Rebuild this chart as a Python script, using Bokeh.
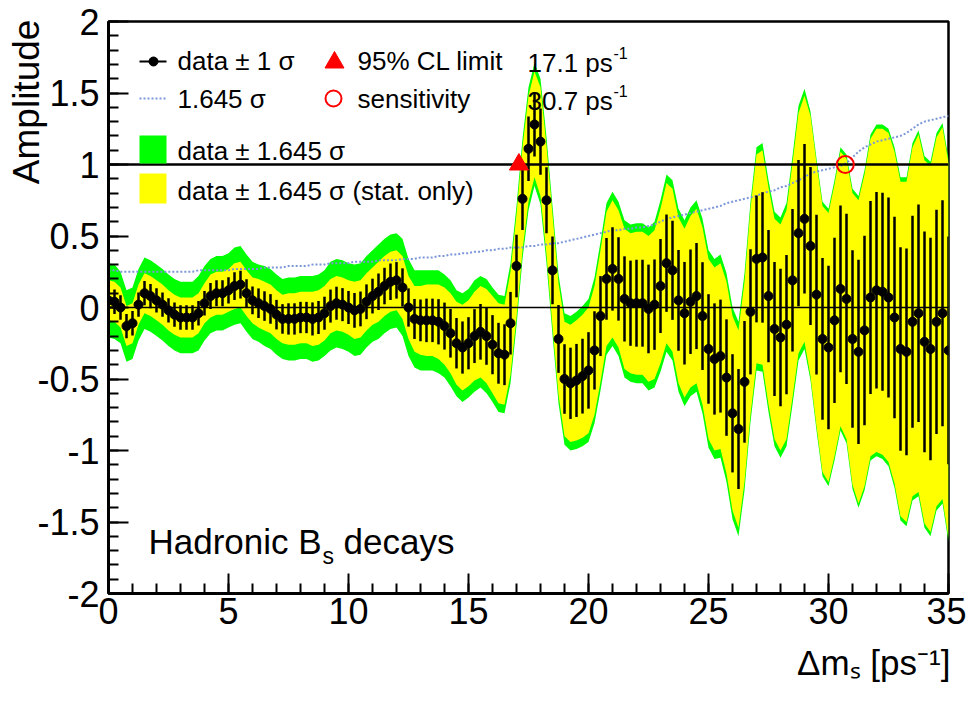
import numpy as np
from bokeh.plotting import figure
from bokeh.models import Label, FixedTicker, NumeralTickFormatter
from bokeh.embed import file_html
from bokeh.resources import INLINE

# ---------------- data ----------------
scan_start, scan_stop, scan_step = 0.0, 35.0, 0.25
dms = np.arange(scan_start, scan_stop + scan_step / 2, scan_step)

amplitude = [
    0.05, 0.04, 0.00, -0.13, -0.11, 0.02, 0.10, 0.08, 0.05, 0.02, -0.02, -0.05, -0.07, -0.07, -0.07, -0.04, 0.03,
    0.08, 0.10, 0.10, 0.12, 0.15, 0.16, 0.10, 0.05, 0.03, 0.01, -0.01, -0.05, -0.08, -0.08, -0.08, -0.07,
    -0.07, -0.08, -0.07, -0.04, 0.01, 0.03, 0.02, 0.00, -0.02, -0.01, 0.04, 0.08, 0.11, 0.15, 0.18, 0.19,
    0.14, 0.00, -0.08, -0.09, -0.09, -0.09, -0.10, -0.13, -0.18, -0.25, -0.28, -0.25, -0.20, -0.17, -0.20, -0.26, -0.32, -0.33, -0.11, 0.29,
    0.76, 1.11, 1.28, 1.16, 0.75, 0.26, -0.22, -0.50, -0.53, -0.51, -0.48, -0.44, -0.30, -0.06, 0.20, 0.27, 0.20, 0.06, 0.03, 0.03, 0.03, -0.01, 0.02, 0.15,
    0.31, 0.26, 0.05, -0.04, 0.04, 0.08, -0.06, -0.29, -0.36, -0.34, -0.49, -0.74, -0.85, -0.52, -0.03, 0.34, 0.35, 0.08, -0.15, -0.21, -0.12, 0.19, 0.52, 0.62,
    0.43, 0.09, -0.22, -0.28, -0.09, 0.13, 0.06, -0.22, -0.31, -0.16, 0.07, 0.12, 0.11, 0.07, -0.07, -0.29, -0.31, -0.10, -0.04, -0.24, -0.29, -0.10, -0.04, -0.30,
]

# 1.645 sigma (total) -- the dotted curve and the green half-width
sig1645_total = [
    0.26, 0.26, 0.25, 0.25, 0.25, 0.25, 0.25, 0.25, 0.25, 0.25, 0.25, 0.25, 0.25, 0.25, 0.25, 0.26, 0.26,
    0.26, 0.26, 0.26, 0.26, 0.27, 0.27, 0.27, 0.27, 0.27, 0.28, 0.28, 0.28, 0.28, 0.29, 0.29, 0.29,
    0.29, 0.30, 0.30, 0.30, 0.31, 0.31, 0.31, 0.31, 0.32, 0.32, 0.32, 0.32, 0.33, 0.33, 0.33, 0.33,
    0.34, 0.34, 0.34, 0.35, 0.35, 0.35, 0.36, 0.36, 0.37, 0.37, 0.38, 0.38, 0.39, 0.39, 0.40, 0.40, 0.41, 0.41, 0.42, 0.42,
    0.42, 0.43, 0.43, 0.44, 0.44, 0.45, 0.45, 0.46, 0.47, 0.48, 0.49, 0.50, 0.51, 0.52, 0.53, 0.54, 0.54, 0.55, 0.55, 0.56, 0.56, 0.57, 0.58, 0.60,
    0.62, 0.63, 0.64, 0.65, 0.66, 0.67, 0.68, 0.69, 0.70, 0.71, 0.73, 0.74, 0.75, 0.76, 0.77, 0.78, 0.80, 0.81, 0.82, 0.84, 0.85, 0.87, 0.89, 0.91,
    0.94, 0.95, 0.96, 0.97, 0.98, 0.99, 1.01, 1.05, 1.09, 1.12, 1.14, 1.16, 1.17, 1.18, 1.19, 1.20, 1.22, 1.25, 1.28, 1.30, 1.31, 1.32, 1.33, 1.34,
]

# 1.645 sigma (statistical only) -- yellow half-width
sig1645_stat = [
    0.14, 0.14, 0.14, 0.14, 0.14, 0.14, 0.14, 0.14, 0.14, 0.14, 0.14, 0.14, 0.14, 0.14, 0.14, 0.14, 0.14,
    0.15, 0.15, 0.15, 0.15, 0.16, 0.16, 0.16, 0.16, 0.17, 0.17, 0.17, 0.17, 0.17, 0.18, 0.18, 0.18,
    0.18, 0.19, 0.19, 0.19, 0.19, 0.19, 0.19, 0.19, 0.20, 0.20, 0.20, 0.20, 0.21, 0.21, 0.21, 0.21,
    0.22, 0.22, 0.23, 0.24, 0.25, 0.25, 0.26, 0.27, 0.28, 0.29, 0.30, 0.30, 0.31, 0.32, 0.33, 0.34, 0.35, 0.35, 0.36, 0.36,
    0.36, 0.37, 0.37, 0.38, 0.38, 0.39, 0.39, 0.40, 0.41, 0.42, 0.43, 0.44, 0.45, 0.46, 0.47, 0.48, 0.48, 0.49, 0.49, 0.50, 0.50, 0.51, 0.52, 0.54,
    0.56, 0.57, 0.58, 0.59, 0.60, 0.61, 0.62, 0.63, 0.64, 0.65, 0.67, 0.68, 0.69, 0.70, 0.72, 0.73, 0.75, 0.76, 0.77, 0.79, 0.80, 0.82, 0.84, 0.86,
    0.91, 0.92, 0.93, 0.94, 0.95, 0.96, 0.98, 1.02, 1.06, 1.09, 1.11, 1.13, 1.14, 1.15, 1.16, 1.17, 1.19, 1.22, 1.25, 1.27, 1.28, 1.29, 1.30, 1.31,
]

cl_factor = 1.645
limit_95cl = 17.1
sensitivity = 30.7
ref_levels = [0.0, 1.0]

x_ticks = [0, 5, 10, 15, 20, 25, 30, 35]
x_minor = list(range(0, 36))
y_ticks = [-2, -1.5, -1, -0.5, 0, 0.5, 1, 1.5, 2]
y_minor = [round(-2 + 0.1 * k, 1) for k in range(41)]

x_title = "\u0394m\u209b [ps\u207b\u00b9]"
y_title = "Amplitude"

# ---------------- figure ----------------
FONT = "Liberation Sans"
W, H = 966, 700
FR_L, FR_R, FR_T, FR_B = 108, 948, 21, 593   # frame edges in page pixels
NBSP = "\u00a0"

p = figure(width=W, height=H, x_range=(0, 35), y_range=(-2, 2),
           output_backend="svg", toolbar_location=None,
           min_border_left=FR_L, min_border_right=W - FR_R,
           min_border_top=FR_T, min_border_bottom=H - FR_B)
p.xgrid.visible = False
p.ygrid.visible = False
p.background_fill_color = "white"
p.border_fill_color = "white"
p.outline_line_color = "black"
p.outline_line_width = 2.5

A = np.array(amplitude)
g = np.array(sig1645_total)
yl = np.array(sig1645_stat)
sig = yl / cl_factor

p.varea(x=dms, y1=A - g, y2=A + g, fill_color="#00ff00")
p.varea(x=dms, y1=A - yl, y2=A + yl, fill_color="#ffff00")
p.line(dms, g, line_color="#7b97d8", line_width=2, line_dash="2 2")
p.hspan(y=[ref_levels[0]], line_color="black", line_width=1.5)
p.hspan(y=[ref_levels[1]], line_color="black", line_width=2.5)
p.segment(x0=dms, y0=A - sig, x1=dms, y1=A + sig, line_color="black", line_width=2.5)
p.scatter(dms, A, size=9, color="black")
p.scatter([limit_95cl], [ref_levels[1]], marker="triangle", size=19, color="red")
p.scatter([sensitivity], [ref_levels[1]], marker="circle", size=17, fill_color=None,
          line_color="red", line_width=2)

# axes
for ax in (p.xaxis[0], p.yaxis[0]):
    ax.axis_line_width = 3
    ax.major_tick_in = 20
    ax.major_tick_out = 0
    ax.minor_tick_in = 10
    ax.minor_tick_out = 0
    ax.major_tick_line_width = 2
    ax.minor_tick_line_width = 2
    ax.major_label_text_font = FONT
    ax.major_label_text_font_size = "36px"
    ax.major_label_text_color = "black"
    ax.axis_label_text_font = FONT
    ax.axis_label_text_font_style = "normal"
    ax.axis_label_text_color = "black"
p.xaxis[0].ticker = FixedTicker(ticks=x_ticks, minor_ticks=x_minor)
p.yaxis[0].ticker = FixedTicker(ticks=y_ticks, minor_ticks=y_minor)
p.yaxis[0].formatter = NumeralTickFormatter(format="0.[0]")
p.xaxis[0].major_label_standoff = 4
p.yaxis[0].major_label_standoff = 9

# Bokeh centres axis titles; leading no-break spaces push the visible text to
# the far end of the axis, ROOT style, while the text box stays inside the canvas
p.yaxis[0].axis_label = NBSP * 40 + y_title
p.yaxis[0].axis_label_text_font_size = "37px"
p.yaxis[0].axis_label_standoff = -13
p.xaxis[0].axis_label = NBSP * 71 + x_title
p.xaxis[0].axis_label_text_font_size = "35px"
p.xaxis[0].axis_label_standoff = 16


# ---------------- helpers: page pixel -> data (for in-frame decorations) ----------------
def dx(px):
    return (px - FR_L) / (FR_R - FR_L) * 35.0


def dy(py):
    return 2.0 - (py - FR_T) / (FR_B - FR_T) * 4.0


def lab(txt, px, py, size, align="left", baseline="middle"):
    p.add_layout(Label(x=dx(px), y=dy(py), text=txt, text_font=FONT,
                       text_font_size=f"{size}px", text_align=align,
                       text_baseline=baseline, text_color="black"))


# legend keys
p.line([dx(139), dx(166)], [dy(61), dy(61)], line_color="black", line_width=2)
p.scatter([dx(153)], [dy(61)], size=9, color="black")
p.line([dx(139), dx(166)], [dy(98), dy(98)], line_color="#7b97d8", line_width=2, line_dash="2 2")
p.scatter([dx(334)], [dy(62)], marker="triangle", size=19, color="red")
p.scatter([dx(333)], [dy(98)], marker="circle", size=16, fill_color=None, line_color="red", line_width=2)
p.quad(left=[dx(139)], right=[dx(166)], top=[dy(135)], bottom=[dy(163)], fill_color="#00ff00", line_color=None)
p.quad(left=[dx(139)], right=[dx(166)], top=[dy(173)], bottom=[dy(203)], fill_color="#ffff00", line_color=None)

lab("data \u00b1 1 \u03c3", 177, 60, 26)
lab("95% CL limit", 357, 60, 26)
lab("1.645 \u03c3", 177, 98, 26)
lab("sensitivity", 357, 98, 26)
lab("data \u00b1 1.645 \u03c3", 177, 150, 26)
lab("data \u00b1 1.645 \u03c3 (stat. only)", 177, 190, 26)
lab(f"{limit_95cl} ps", 527, 62, 26)
lab("-1", 613, 52, 16)
lab(f"{sensitivity} ps", 527, 100, 26)
lab("-1", 613, 90, 16)

# annotation
lab("Hadronic B", 148, 541, 35)
lab("s", 322, 555, 23)
lab("decays", 343, 541, 35)

open("out.html", "w").write(file_html(p, INLINE))
